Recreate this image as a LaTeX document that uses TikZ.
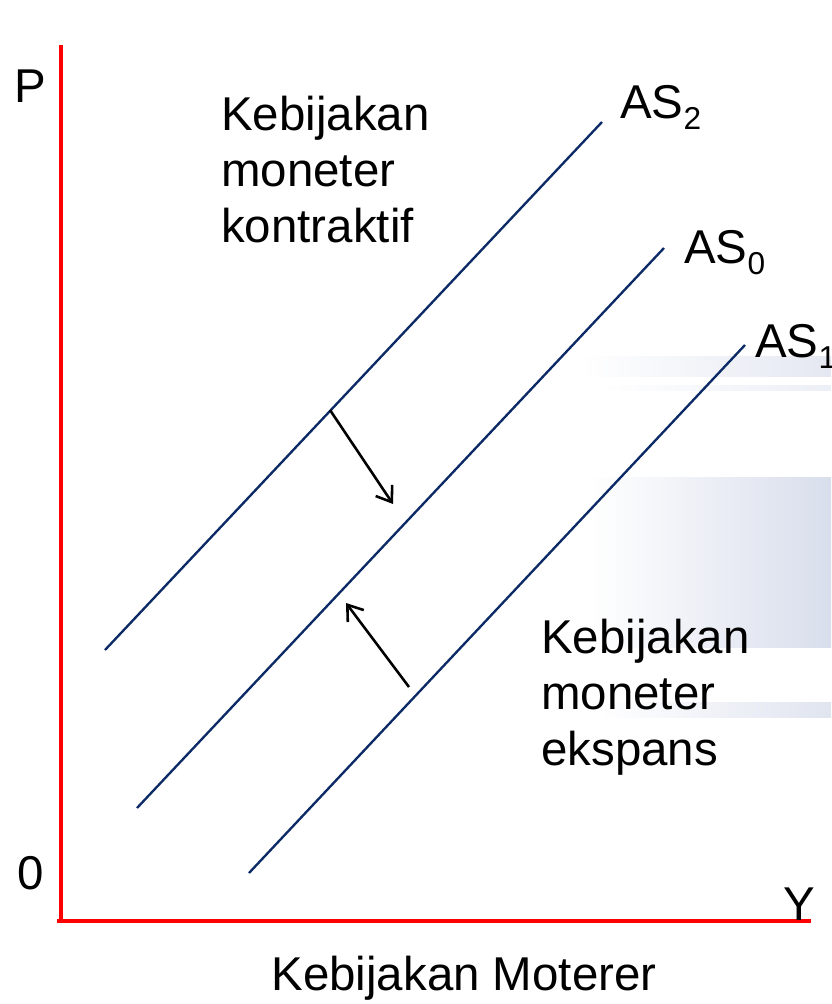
\documentclass[tikz,border=0pt]{standalone}
\usepackage{fontspec}
\setmainfont{Liberation Sans}
\usepackage{tikz}
\usetikzlibrary{arrows.meta,positioning}

\definecolor{curveblue}{HTML}{0B2A66}
\definecolor{axisred}{HTML}{FF0000}
\definecolor{bandblue}{HTML}{D9DEEC}
\newcommand{\assub}[1]{\raisebox{-0.25em}{\fontsize{27}{27}\selectfont #1}}

\begin{document}
\begin{tikzpicture}[
  x=0.03cm, y=-0.03cm,
  >={Straight Barb[length=12pt,width=17pt]},
  txt/.style={font=\fontsize{40.5}{47.6}\selectfont, inner sep=0pt, align=left},
  curve/.style={draw=curveblue, line width=2pt},
  axis/.style={draw=axisred, line width=2.6pt},
  shift arrow/.style={->, black, line width=2.2pt}]
  \useasboundingbox (0,0) rectangle (831,1004);
  % faint slide background bands
  \shade[left color=white, right color=bandblue!70] (580,356) rectangle (831,376);
  \shade[left color=white, right color=bandblue!50] (600,385) rectangle (831,390);
  \shade[left color=white, right color=bandblue] (590,477) rectangle (831,647);
  \shade[left color=white, right color=bandblue!80] (600,702) rectangle (831,717);

  % axes
  \coordinate (origin) at (61,921);
  \coordinate (ptop) at (61,45);
  \coordinate (yend) at (811,921);
  \draw[axis] (ptop) -- (61,919.5);
  \draw[axis] (57,921) -- (yend);
  \node[txt, anchor=base west] (plabel) at (14,102) {P};
  \node[txt, anchor=base west] (zero) at (17,889) {0};
  \node[txt, anchor=base west] (ylabel) at (783,920) {Y};

  % supply curves
  \coordinate (as2a) at (105,650); \coordinate (as2b) at (602,122);
  \coordinate (as0a) at (137,808); \coordinate (as0b) at (664,248);
  \coordinate (as1a) at (249,873); \coordinate (as1b) at (745,345);
  \draw[curve] (as2a) -- (as2b);
  \draw[curve] (as0a) -- (as0b);
  \draw[curve] (as1a) -- (as1b);
  \node[txt, anchor=base west] (as2) at (620,118) {AS\assub{2}};
  \node[txt, anchor=base west] (as0) at (684,263) {AS\assub{0}};
  \node[txt, anchor=base west] (as1) at (755,357) {AS\assub{1}};

  % shifts
  \coordinate (kstart) at (330,410); \coordinate (kend) at (393,504);
  \coordinate (estart) at (409,687); \coordinate (eend) at (346,603);
  \draw[shift arrow] (kstart) -- (kend);
  \draw[shift arrow] (estart) -- (eend);

  \node[txt, anchor=base west] (kontraktif) at (221,242) {Kebijakan\\moneter\\kontraktif};
  \node[txt, anchor=base west] (ekspans) at (541,765) {Kebijakan\\moneter\\ekspans};
  \node[txt, anchor=base] (title) at (464,990) {Kebijakan Moterer};
\end{tikzpicture}
\end{document}
